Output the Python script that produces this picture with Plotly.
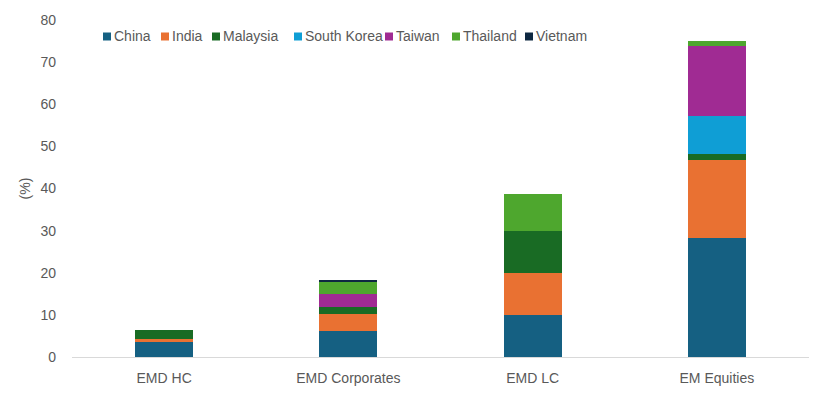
import plotly.graph_objects as go

categories = ["EMD HC", "EMD Corporates", "EMD LC", "EM Equities"]
countries = ["China", "India", "Malaysia", "South Korea", "Taiwan", "Thailand", "Vietnam"]
china = [3.5, 6.1, 9.9, 28.3]
india = [0.7, 4.1, 10.0, 18.5]
malaysia = [2.1, 1.7, 10.0, 1.4]
south_korea = [0.0, 0.0, 0.0, 9.0]
taiwan = [0.0, 3.0, 0.0, 16.7]
thailand = [0.0, 3.1, 8.7, 1.1]
vietnam = [0.0, 0.25, 0.0, 0.0]
series = [china, india, malaysia, south_korea, taiwan, thailand, vietnam]
colors = ["#156082", "#E97132", "#196B24", "#0F9ED5", "#A02B93", "#4EA72E", "#0E2841"]

# legend layout (pixel x of each swatch inside the page)
legend_px = [103, 161, 212, 294, 385, 452, 525]
legend_py = 36.5

W, H = 816, 386
ML, MR, MT, MB = 64, 15, 12, 37
PW = W - ML - MR
PH = H - MT - MB
OFF = 8  # page body margin

TXT = "#595959"
FONT = "Liberation Sans, Arial, sans-serif"

fig = go.Figure()
for name, vals, col in zip(countries, series, colors):
    fig.add_trace(go.Bar(x=categories, y=vals, name=name, marker_color=col,
                         marker_line_width=0, showlegend=False))

def px2paper_x(px):
    return (px - OFF - ML) / PW

def py2paper_y(py):
    return (H - MB - (py - OFF)) / PH

for name, col, px in zip(countries, colors, legend_px):
    xa = px2paper_x(px)
    ya = py2paper_y(legend_py)
    fig.add_shape(type="rect", xref="paper", yref="paper",
                  xsizemode="pixel", ysizemode="pixel",
                  xanchor=xa, yanchor=ya, x0=0, x1=8, y0=-4, y1=4,
                  fillcolor=col, line_width=0)
    fig.add_annotation(text=name, xref="paper", yref="paper",
                       x=px2paper_x(px + 9), y=ya, xanchor="left", yanchor="middle",
                       showarrow=False, font=dict(family=FONT, size=14, color=TXT))

fig.update_layout(
    barmode="stack",
    bargap=0.685,
    width=W, height=H,
    margin=dict(l=ML, r=MR, t=MT, b=MB, pad=0, autoexpand=False),
    paper_bgcolor="white", plot_bgcolor="white",
    font=dict(family=FONT, size=14, color=TXT),
    showlegend=False,
    xaxis=dict(showline=True, linecolor="#d9d9d9", linewidth=1, ticks="",
               showgrid=False, ticklabelstandoff=8, automargin=False,
               tickfont=dict(family=FONT, size=14, color=TXT)),
    yaxis=dict(range=[0, 80], dtick=10, showgrid=False, zeroline=False,
               showline=False, ticks="", ticklabelstandoff=15, automargin=False,
               title=dict(text="(%)", standoff=6, font=dict(family=FONT, size=14, color=TXT)),
               tickfont=dict(family=FONT, size=14, color=TXT)),
)
fig.write_html("out.html")
